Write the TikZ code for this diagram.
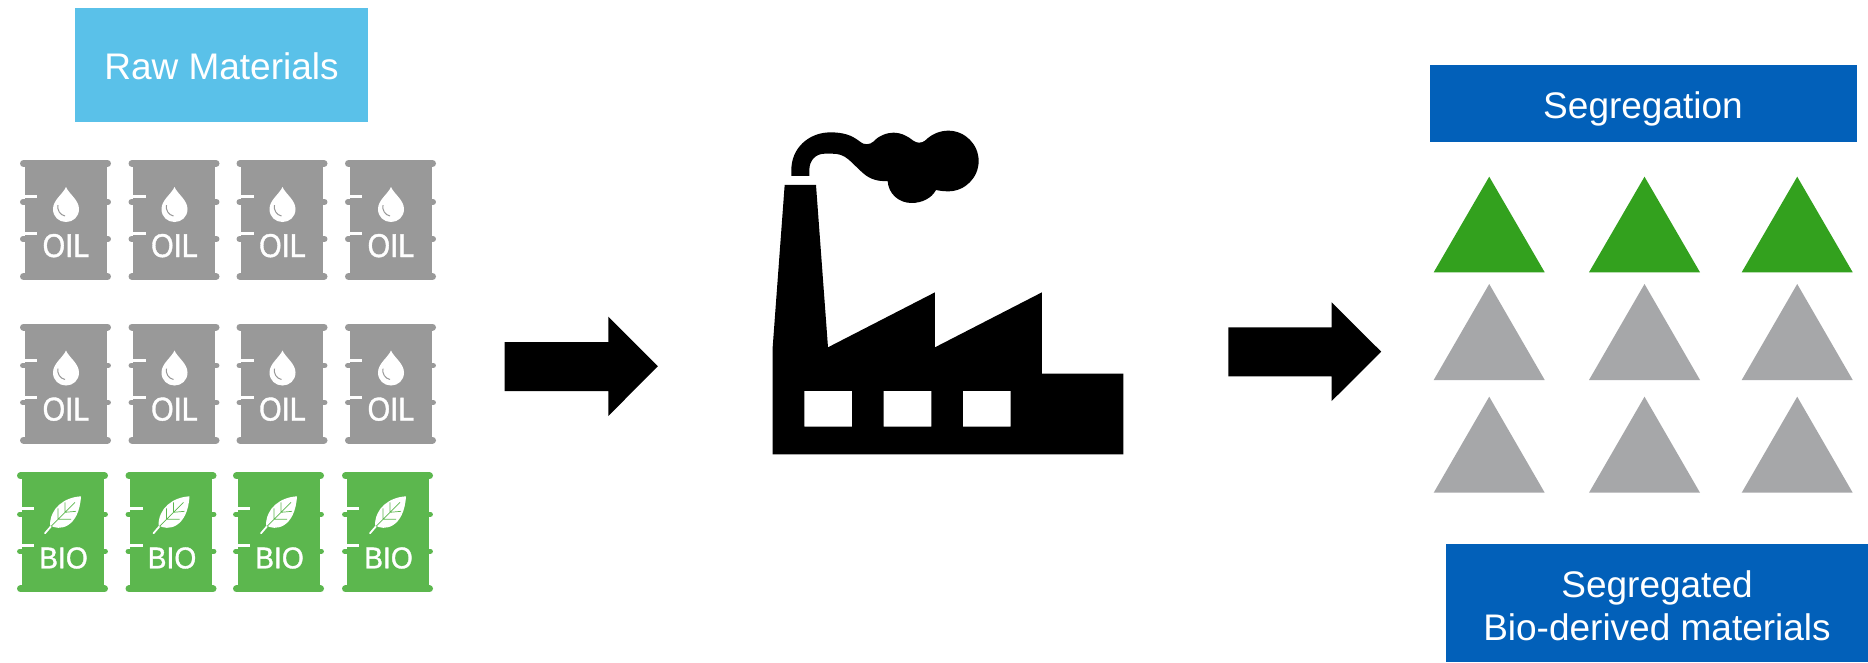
\documentclass[tikz,border=0pt]{standalone}
\usepackage{fontspec}
\setmainfont{Liberation Sans}
\newfontfamily\barrelfont[FakeBold=1.2]{Liberation Sans}
\definecolor{skybox}{HTML}{5AC1E9}
\definecolor{bluebox}{HTML}{0260B9}
\definecolor{triGreen}{HTML}{33A11E}
\definecolor{triGrey}{HTML}{A6A7A9}
\definecolor{oilGrey}{HTML}{999999}
\definecolor{bioGreen}{HTML}{5CB74E}
\tikzset{
  x=1pt,y=-1pt,
  labelbox/.style={fill=#1,draw=none},
  boxtext/.style={text=white,inner sep=0pt,font=\fontsize{37}{43}\selectfont,anchor=base,align=center},
  barreltext/.style={text=white,inner sep=0pt,anchor=base},
  blockarrow/.style={fill=black,draw=none},
  tri/.style={fill=#1,draw=none},
  barrelbody/.pic={
    \fill[#1] (4.5,3) rectangle (86.5,117);
    \draw[#1,line width=7pt,line cap=round] (3.5,3.5) -- (87.5,3.5);
    \draw[#1,line width=5.5pt,line cap=round] (2.8,42) -- (88.2,42);
    \draw[#1,line width=5.5pt,line cap=round] (2.8,79) -- (88.2,79);
    \draw[#1,line width=7pt,line cap=round] (3.5,116.5) -- (87.5,116.5);
    \draw[white,line width=3pt] (-1,36.5) -- (17,36.5);
    \draw[white,line width=3pt] (-1,73.5) -- (17,73.5);
  },
  oilbarrel/.pic={
    \pic {barrelbody=oilGrey};
    \fill[white] (46,27) .. controls (43,34) and (33,40) .. (33,49)
      .. controls (33,57) and (39,62) .. (46,62)
      .. controls (53,62) and (59,57) .. (59,49)
      .. controls (59,40) and (49,34) .. (46,27) -- cycle;
    \draw[oilGrey,line width=1pt] (38,45) .. controls (37,50) and (40,55) .. (45,56);
    \node[barreltext,font=\barrelfont\fontsize{33}{33}\selectfont] (-label) at (46,97) {\scalebox{0.88}[1]{OIL}};
  },
  biobarrel/.pic={
    \pic {barrelbody=bioGreen};
    \fill[white] (64,24) .. controls (47,25) and (33,36) .. (33,53)
      .. controls (42,59) and (62,56) .. (64,24) -- cycle;
    \draw[white,line width=1.8pt,line cap=round] (34,54) -- (28,61);
    \draw[bioGreen,line width=0.7pt] (34,54) -- (58,30)
      (41,47) -- (41,36) (41,47) -- (54,47)
      (48,40) -- (48,30) (48,40) -- (59,39);
    \node[barreltext,font=\barrelfont\fontsize{30}{30}\selectfont] (-label) at (46.5,96) {\scalebox{0.94}[1]{BIO}};
  },
}
\begin{document}
\begin{tikzpicture}
\useasboundingbox (0,0) rectangle (1868,662);
\fill[white] (0,0) rectangle (1868,662);

% title boxes
\fill[labelbox=skybox] (75,8) rectangle (368,122);
\node[boxtext] (raw) at (221.5,79.6) {Raw Materials};
\fill[labelbox=bluebox] (1430,65) rectangle (1857,142);
\node[boxtext] (seg) at (1643,118.6) {Segregation};
\fill[labelbox=bluebox] (1446,544) rectangle (1868,662);
\node[boxtext] (segbio1) at (1657,597.6) {Segregated};
\node[boxtext] (segbio2) at (1657,640.6) {Bio-derived materials};

% barrels
\foreach \xx [count=\i] in {20,128.5,236.5,345}{
  \pic (oila\i) at (\xx,160) {oilbarrel};
  \pic (oilb\i) at (\xx,323.5) {oilbarrel};
}
\foreach \xx [count=\i] in {17,125.5,233,342}{
  \pic (bio\i) at (\xx,472.3) {biobarrel};
}

% block arrows
\fill[blockarrow] (504.7,342) -- (608.3,342) -- (608.3,316.7) -- (657.8,366.3)
  -- (608.3,416) -- (608.3,391) -- (504.7,391) -- cycle;
\fill[blockarrow] (1228.3,327.3) -- (1331.7,327.3) -- (1331.7,302.3) -- (1381.2,351.7)
  -- (1331.7,401) -- (1331.7,376.3) -- (1228.3,376.3) -- cycle;

% factory
\begin{scope}[shift={(750,110)},x=0.3333pt,y=-0.3333pt]
\fill[black,even odd rule] (68,1033) -- (68,712) -- (104,225) -- (198,225) -- (234,712)
  -- (555,547) -- (555,712) -- (876,547) -- (876,791) -- (1120,791) -- (1120,1033) -- cycle
  (163,843) rectangle (306,950)
  (401,843) rectangle (544,950)
  (639,843) rectangle (782,950);
\fill[black] (124,198) -- (124,180)
  .. controls (124,115) and (175,68) .. (240,67)
  .. controls (280,67) and (305,75) .. (330,95)
  .. controls (340,105) and (360,105) .. (370,95)
  .. controls (385,78) and (410,68) .. (430,68)
  .. controls (455,68) and (475,80) .. (490,92)
  .. controls (500,100) and (515,100) .. (525,92)
  .. controls (545,72) and (570,62) .. (595,62)
  .. controls (645,62) and (686,103) .. (686,153)
  .. controls (686,203) and (645,244) .. (595,244)
  .. controls (580,244) and (568,242) .. (558,240)
  .. controls (545,265) and (515,279) .. (485,279)
  .. controls (445,279) and (415,250) .. (413,213)
  .. controls (385,215) and (360,208) .. (340,190)
  .. controls (325,178) and (310,160) .. (295,148)
  .. controls (280,135) and (265,131) .. (245,131)
  -- (225,131)
  .. controls (198,131) and (178,150) .. (178,180)
  -- (178,198) -- cycle;
\end{scope}

% triangles
\foreach \xa in {1433.7,1589,1741.7}{
  \fill[tri=triGreen] (\xa,272.3) -- (\xa+55.5,176.7) -- (\xa+111,272.3) -- cycle;
  \fill[tri=triGrey] (\xa,380) -- (\xa+55.5,284) -- (\xa+111,380) -- cycle;
  \fill[tri=triGrey] (\xa,492.7) -- (\xa+55.5,396.7) -- (\xa+111,492.7) -- cycle;
}
\end{tikzpicture}
\end{document}
